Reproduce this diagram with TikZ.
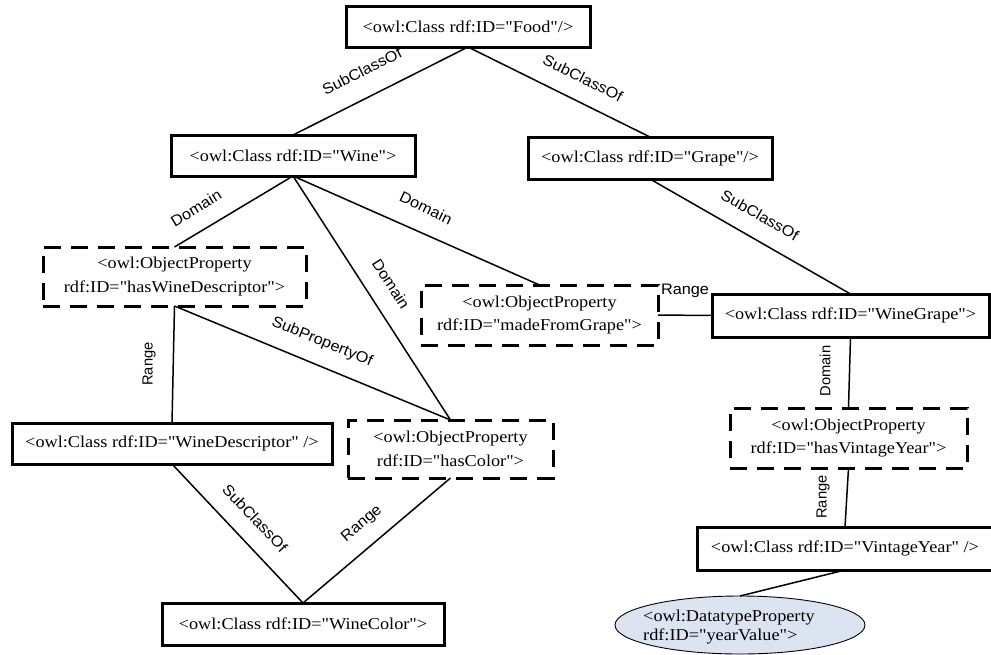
\documentclass[tikz,border=0pt]{standalone}
\usepackage{fontspec}
\setmainfont{Liberation Serif}[FakeStretch=1.1, Ligatures=TeXOff]
\newfontfamily\labfont{Liberation Sans}[FakeStretch=1.07]
\newfontfamily\labvfont{Liberation Sans}
\usetikzlibrary{shapes.geometric}

\definecolor{propfill}{RGB}{220,228,242}
\tikzset{
  owltext/.style={font=\fontsize{16.6}{23.5}\selectfont, align=center},
  classbox/.style={owltext, draw=black, line width=3pt, fill=white,
    rectangle, inner sep=0pt, outer sep=0pt},
  propbox/.style={owltext, draw=black, line width=3pt, fill=white,
    rectangle, inner sep=0pt, outer sep=0pt,
    dash pattern=on 17pt off 10pt},
  dataprop/.style={draw=black, line width=0.9pt, fill=propfill, ellipse,
    inner sep=0pt, outer sep=0pt},
  conn/.style={draw=black, line width=1.5pt},
  lbl/.style={font=\labfont\fontsize{15.2}{17}\selectfont, inner sep=0pt},
  vlbl/.style={font=\labvfont\fontsize{14.7}{17}\selectfont, inner sep=0pt, rotate=90},
}

\begin{document}
\begin{tikzpicture}[x=1pt,y=-1pt]
\useasboundingbox (0,0) rectangle (991,654);

% classes
\node[classbox, minimum width=244pt, minimum height=41pt] (food) at (468,26.5) {<owl:Class rdf:ID="Food"/>};
\node[classbox, minimum width=244pt, minimum height=41pt] (wine) at (293,155.5) {<owl:Class rdf:ID="Wine">};
\node[classbox, minimum width=244pt, minimum height=42pt] (grape) at (650,158) {<owl:Class rdf:ID="Grape"/>};
\node[classbox, minimum width=277pt, minimum height=43pt] (wg) at (850.5,315.5) {<owl:Class rdf:ID="WineGrape">};
\node[classbox, minimum width=320pt, minimum height=41pt] (wd) at (172,443.5) {<owl:Class rdf:ID="WineDescriptor" />};
\node[classbox, minimum width=282pt, minimum height=42pt] (wc) at (303,624) {<owl:Class rdf:ID="WineColor">};
\node[classbox, minimum width=296pt, minimum height=43pt] (vy) at (845,548.5) {<owl:Class rdf:ID="VintageYear" />};

% object properties
\node[propbox, minimum width=263pt, minimum height=59pt] (hwd) at (174.5,276.5) {<owl:ObjectProperty\\rdf:ID="hasWineDescriptor">};
\node[propbox, minimum width=237pt, minimum height=60pt] (mfg) at (539.5,315) {<owl:ObjectProperty\\rdf:ID="madeFromGrape">};
\node[propbox, minimum width=205pt, minimum height=58pt] (hc) at (450.5,449) {<owl:ObjectProperty\\rdf:ID="hasColor">};
\node[propbox, minimum width=237pt, minimum height=60pt] (hvy) at (848.5,438) {<owl:ObjectProperty\\rdf:ID="hasVintageYear">};

% datatype property
\node[dataprop, minimum width=250pt, minimum height=58pt] (yv) at (740,625) {};
\node[font=\fontsize{16.6}{19.5}\selectfont, align=left, anchor=west, inner sep=0pt] (yvt) at (643,627) {<owl:DatatypeProperty\\rdf:ID="yearValue">};

% connectors
\draw[conn] (food.south) -- (wine.north);
\draw[conn] (food.south) -- (grape.north);
\draw[conn] (grape.south) -- (wg.north);
\draw[conn] (wine.south) -- (hwd.north);
\draw[conn] (wine.south) -- (mfg.north);
\draw[conn] (wine.south) -- (hc.north);
\draw[conn] (hwd.south) -- (hc.north);
\draw[conn] (hwd.south) -- (wd.north);
\draw[conn] (wd.south) -- (wc.north);
\draw[conn] (wc.north) -- (hc.south);
\draw[conn] (mfg.east) -- (wg.west);
\draw[conn] (wg.south) -- (hvy.north);
\draw[conn] (hvy.south) -- (vy.north);
\draw[conn] (vy.south) -- (yv.north);

% connector labels
\node[lbl, rotate=26.7]  (l1)  at (362,71)  {SubClassOf};
\node[lbl, rotate=-26.3] (l2)  at (583,78)  {SubClassOf};
\node[lbl, rotate=-29.9] (l3)  at (760,215) {SubClassOf};
\node[lbl, rotate=31.5]  (l4)  at (196,208) {Domain};
\node[lbl, rotate=-25.5] (l5)  at (426,208) {Domain};
\node[lbl, rotate=-57.2] (l6)  at (391,284) {Domain};
\node[lbl, rotate=-22.4] (l7)  at (322,342) {SubPropertyOf};
\node[vlbl]              (l8)  at (149,364) {Range};
\node[lbl, rotate=-46.7] (l9)  at (255,518) {SubClassOf};
\node[lbl, rotate=40.4]  (l10) at (362,524) {Range};
\node[lbl]               (l11) at (685,291) {Range};
\node[vlbl]              (l12) at (825,371) {Domain};
\node[vlbl]              (l13) at (823,497) {Range};
\end{tikzpicture}
\end{document}
